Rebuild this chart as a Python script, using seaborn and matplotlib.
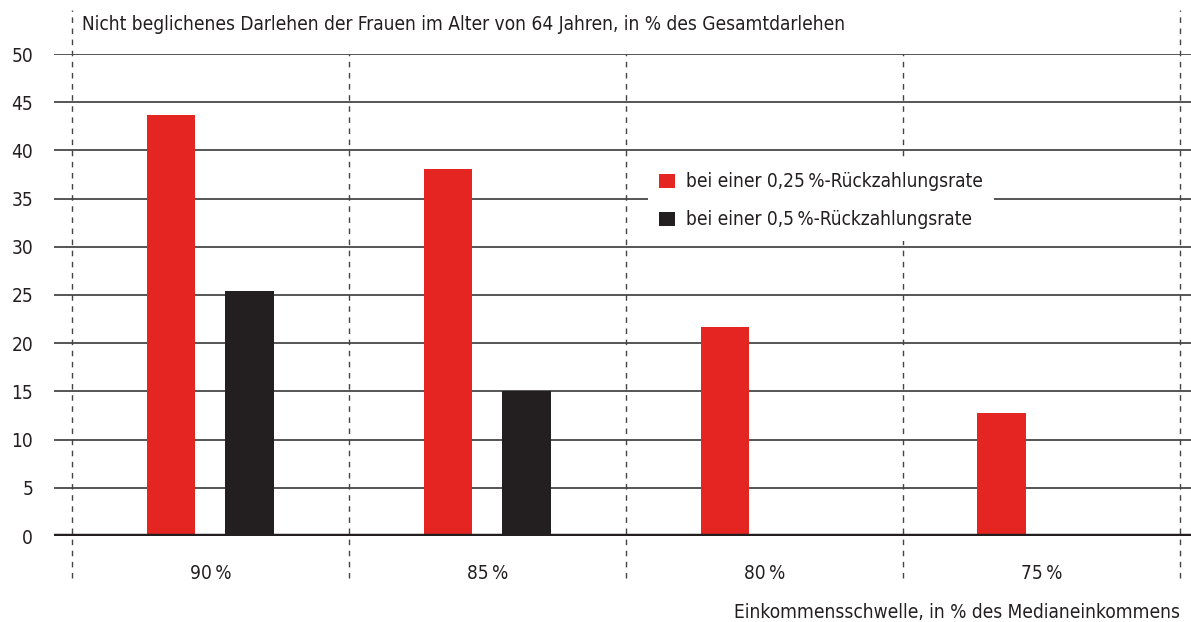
import numpy as np
import pandas as pd
import matplotlib.pyplot as plt
import seaborn as sns
from matplotlib.patches import Patch

# data
schwelle = ['90\u2009%', '85\u2009%', '80\u2009%', '75\u2009%']
rate_025 = [43.7, 38.1, 21.7, 12.8]
rate_05 = [25.4, 15.0, np.nan, np.nan]
serien = ['bei einer 0,25\u2009%-Rückzahlungsrate', 'bei einer 0,5\u2009%-Rückzahlungsrate']
yticks = list(range(0, 55, 5))

rot = '#e52521'
schwarz = '#231f20'
fs = 13.7

df = pd.DataFrame({
    'schwelle': schwelle * 2,
    'wert': rate_025 + rate_05,
    'serie': [serien[0]] * 4 + [serien[1]] * 4,
})

sns.set_style('white')
plt.rcParams['font.family'] = ['DejaVu Sans']
plt.rcParams['font.stretch'] = 'condensed'

fig = plt.figure(figsize=(11.91, 6.22), dpi=100)
ax = fig.add_axes([54 / 1191, 1 - 536 / 622, 1 - 54 / 1191, 482 / 622])

sns.barplot(data=df, x='schwelle', y='wert', hue='serie', order=schwelle,
            hue_order=serien, palette=[rot, schwarz], width=0.57, gap=0.38,
            saturation=1, linewidth=0, legend=False, ax=ax, zorder=3)

ax.set_xlim(-0.565, 3.54)
ax.set_ylim(0, 50)
ax.set_yticks(yticks)
ax.set_yticklabels([str(t) for t in yticks])
for s in ax.spines.values():
    s.set_visible(False)

# horizontal grid
for t in yticks[1:]:
    ax.axhline(t, color='#555555', lw=1.4, zorder=1)
ax.axhline(0, color=schwarz, lw=3.2, zorder=4)

# dashed group separators; the outer ones reach up to the title
seps = np.arange(-0.5, 4, 1.0)
for i, xv in enumerate(seps):
    top = 1.091 if i in (0, len(seps) - 1) else 1.0
    ax.plot([xv, xv], [-0.087, top], transform=ax.get_xaxis_transform(),
            color='#444444', lw=1, ls=(0, (4, 4)), clip_on=False, zorder=2)

ax.tick_params(axis='both', length=0, labelsize=fs, colors=schwarz)
ax.tick_params(axis='y', pad=15)
ax.tick_params(axis='x', pad=20)
ax.set_xlabel('')
ax.set_ylabel('')

fig.text(82 / 1191, 1 - 25 / 622,
         'Nicht beglichenes Darlehen der Frauen im Alter von 64 Jahren, in % des Gesamtdarlehen',
         fontsize=fs, color=schwarz, va='center', ha='left')
fig.text(1180 / 1191, 1 - 612 / 622,
         'Einkommensschwelle, in % des Medianeinkommens',
         fontsize=fs, color=schwarz, va='center', ha='right')

handles = [Patch(facecolor=rot, edgecolor='none'), Patch(facecolor=schwarz, edgecolor='none')]
leg = ax.legend(handles, serien, loc='upper left',
                bbox_to_anchor=(648 / 1191, 1 - 161 / 622), bbox_transform=fig.transFigure,
                borderaxespad=0, frameon=True, fancybox=False, framealpha=1,
                fontsize=fs, handlelength=0.8, handleheight=0.8,
                handletextpad=0.6, labelspacing=1.0, borderpad=0.6)
leg.get_frame().set_edgecolor('none')
leg.get_frame().set_facecolor('white')
for txt in leg.get_texts():
    txt.set_color(schwarz)

fig.savefig('out.png', dpi=100)
